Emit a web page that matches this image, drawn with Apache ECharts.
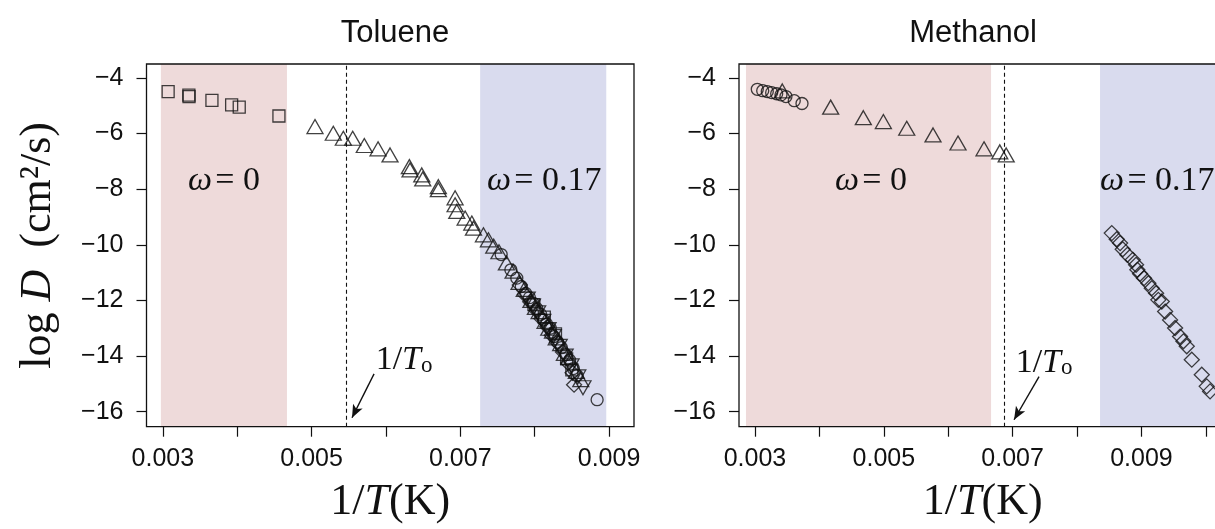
<!DOCTYPE html>
<html>
<head>
<meta charset="utf-8">
<script src="https://cdn.jsdelivr.net/npm/echarts@6/dist/echarts.min.js"></script>
<style>
  html, body { margin: 0; padding: 0; background: #fff; }
  #chart { width: 1215px; height: 529px; }
</style>
</head>
<body>
<div id="chart"></div>
<script>
// ---- Axis ticks / ranges ----
const xTicks = [0.003, 0.004, 0.005, 0.006, 0.007, 0.008, 0.009, 0.010];
const xLabels = [0.003, 0.005, 0.007, 0.009];
const yTicks = [-16, -14, -12, -10, -8, -6, -4];
const yRange = [-16.54, -3.5];

// ---- Panel titles ----
const panelTitles = ['Toluene', 'Methanol'];

// ---- Shaded regimes [from, to] in 1/T ----
const tolueneBands = { low: [0.002973, 0.004669], high: [0.007267, 0.008963] };
const methanolBands = { low: [0.002860, 0.006665], high: [0.008357, 0.0105] };

// ---- 1/T_o positions ----
const tolueneT0 = 0.005463;
const methanolT0 = 0.006866;

// ---- Toluene data: [1/T, log D] ----
const tolueneSquares = [
  [0.003071, -4.49], [0.00335, -4.62], [0.003352, -4.67], [0.00366, -4.81],
  [0.003925, -4.97], [0.004027, -5.05], [0.004561, -5.37],
  [0.00799, -12.15], [0.00813, -12.6], [0.00828, -13.2], [0.00843, -14.1], [0.00850, -14.5]
];
const tolueneTriangles = [
  [0.005046, -5.75], [0.005292, -5.99], [0.005427, -6.17], [0.005553, -6.17],
  [0.005709, -6.43], [0.005894, -6.55], [0.006055, -6.77], [0.006315, -7.19],
  [0.006324, -7.31], [0.006482, -7.49], [0.006495, -7.63], [0.006705, -7.91],
  [0.006705, -8.02], [0.00693, -8.31], [0.00693, -8.56], [0.006953, -8.80],
  [0.007065, -9.04], [0.007155, -9.22], [0.007177, -9.40], [0.007311, -9.64],
  [0.007378, -9.82], [0.00745, -10.05], [0.00752, -10.25], [0.00762, -10.65],
  [0.00771, -10.95], [0.00779, -11.35], [0.00786, -11.6], [0.00795, -12.0],
  [0.00801, -12.25], [0.00806, -12.4], [0.00814, -12.75], [0.00819, -13.0],
  [0.00824, -13.1], [0.00829, -13.35], [0.00835, -13.55], [0.00840, -13.9],
  [0.00846, -14.05], [0.00856, -14.55], [0.00862, -14.85]
];
const tolueneCircles = [
  [0.00755, -10.35], [0.00768, -10.9], [0.00776, -11.2], [0.00782, -11.5],
  [0.00788, -11.75], [0.00793, -11.9], [0.00798, -12.1], [0.00803, -12.3],
  [0.00808, -12.5], [0.00812, -12.7], [0.00816, -12.85], [0.00821, -13.0],
  [0.00826, -13.3], [0.00831, -13.5], [0.00836, -13.7], [0.00842, -13.95],
  [0.00847, -14.15], [0.00852, -14.45], [0.00857, -14.7], [0.00884, -15.57]
];
const tolueneInvTriangles = [
  [0.00790, -11.95], [0.00797, -12.2], [0.00804, -12.45], [0.00811, -12.75],
  [0.00818, -13.05], [0.00825, -13.3], [0.00833, -13.65], [0.00841, -14.0],
  [0.00849, -14.35], [0.00858, -14.75], [0.00865, -15.14]
];
const tolueneDiamonds = [
  [0.00780, -11.45], [0.00787, -11.8], [0.00794, -12.05], [0.00802, -12.35],
  [0.00809, -12.65], [0.00817, -12.95], [0.00823, -13.25], [0.00830, -13.5],
  [0.00838, -13.85], [0.00845, -14.25], [0.00851, -14.6], [0.00853, -15.03]
];

// ---- Methanol data: [1/T, log D] ----
const methanolCircles = [
  [0.003036, -4.41], [0.00312, -4.46], [0.003191, -4.49], [0.003259, -4.53],
  [0.003337, -4.57], [0.003404, -4.61], [0.003481, -4.67], [0.00361, -4.82],
  [0.00373, -4.92]
];
const methanolTriangles = [
  [0.003424, -4.47], [0.004175, -5.05], [0.004682, -5.43], [0.004993, -5.57],
  [0.005356, -5.81], [0.005764, -6.05], [0.006152, -6.34], [0.006556, -6.55],
  [0.00680, -6.66], [0.00690, -6.77]
];
const methanolDiamonds = [
  [0.008539, -9.58], [0.008616, -9.80], [0.008668, -9.94], [0.008709, -10.16],
  [0.008781, -10.36], [0.008865, -10.54], [0.008916, -10.72], [0.008936, -10.90],
  [0.008978, -11.04], [0.00904, -11.20], [0.009107, -11.38], [0.00916, -11.56],
  [0.009227, -11.74], [0.009262, -11.98], [0.009315, -12.04], [0.009367, -12.40],
  [0.009444, -12.70], [0.009522, -12.99], [0.009599, -13.30], [0.009651, -13.47],
  [0.009703, -13.65], [0.009781, -14.13], [0.009936, -14.67], [0.010013, -15.09],
  [0.010065, -15.27]
];

// ---- Annotation anchors (data space) ----
const tolueneArrow = [[0.005840, -14.64], [0.005544, -16.22]];
const methanolArrow = [[0.007410, -14.74], [0.007022, -16.29]];
const tolueneT0Label = [0.006244, -14.07];
const methanolT0Label = [0.007488, -14.17];
const omegaLabels = [
  { grid: 0, coord: [0.003821, -7.72], text: '0', align: 'center' },
  { grid: 0, coord: [0.008128, -7.72], text: '0.17', align: 'center' },
  { grid: 1, coord: [0.004801, -7.72], text: '0', align: 'center' },
  { grid: 1, coord: [0.008357, -7.72], text: '0.17', align: 'left' }
];

const INK = '#111';
const SANS = '"Liberation Sans", Arial, Helvetica, sans-serif';
const SERIF = '"Liberation Serif", "DejaVu Serif", serif';

const chart = echarts.init(document.getElementById('chart'), null, { renderer: 'canvas' });

const mathRich = {
  n: { fontFamily: SERIF, fontSize: 44, color: INK },
  i: { fontFamily: SERIF, fontSize: 44, fontStyle: 'italic', color: INK }
};

function xAxisFor(gi, min, max) {
  return {
    type: 'value', gridIndex: gi, min: min, max: max,
    axisLine: { show: false },
    splitLine: { show: false },
    axisTick: { show: true, inside: false, length: 10, customValues: xTicks,
      lineStyle: { color: INK, width: 1.2 } },
    axisLabel: { show: true, customValues: xLabels, margin: 20,
      fontFamily: SANS, fontSize: 25, color: INK,
      formatter: v => v.toFixed(3) },
    name: '{n|1/}{i|T}{n|(K)}',
    nameLocation: 'middle', nameGap: 54,
    nameTextStyle: { rich: mathRich, fontSize: 44 }
  };
}

function yAxisFor(gi, withName) {
  const ax = {
    type: 'value', gridIndex: gi, min: yRange[0], max: yRange[1],
    axisLine: { show: false },
    splitLine: { show: false },
    axisTick: { show: true, inside: false, length: 10, customValues: yTicks,
      lineStyle: { color: INK, width: 1.2 } },
    axisLabel: { show: true, customValues: yTicks, margin: 23,
      fontFamily: SANS, fontSize: 25, color: INK,
      formatter: v => (v < 0 ? '\u2212' : '') + Math.abs(v) }
  };
  if (withName) {
    ax.name = '{n|log }{i|D}{n|  (cm\u00B2/s)}';
    ax.nameLocation = 'middle';
    ax.nameGap = 86;
    ax.nameRotate = 90;
    ax.nameTextStyle = { rich: mathRich, fontSize: 44 };
  }
  return ax;
}

function hollow(name, data, gi, symbol, size, rotate) {
  return {
    type: 'scatter', name: name, data: data,
    xAxisIndex: gi, yAxisIndex: gi,
    symbol: symbol, symbolSize: size, symbolRotate: rotate || 0,
    itemStyle: { color: 'rgba(0,0,0,0)', borderColor: INK, borderWidth: 1.3 },
    emphasis: { disabled: true },
    silent: true, z: 5
  };
}

// Shaded regimes plus the omega / 1/T_o text for one panel
function regimes(gi, bands, t0Label) {
  const pts = omegaLabels.filter(o => o.grid === gi).map(o => ({
    coord: o.coord, value: o.text,
    label: {
      show: true, position: 'inside', align: o.align,
      formatter: '{w|\u03C9} {n|= ' + o.text + '}',
      rich: {
        w: { fontFamily: SERIF, fontSize: 34, fontStyle: 'italic', color: INK },
        n: { fontFamily: SERIF, fontSize: 34, color: INK }
      }
    }
  }));
  pts.push({
    coord: t0Label, value: 't0',
    label: {
      show: true, position: 'inside', align: 'center',
      formatter: '{n|1/}{i|T}{sub|o}',
      rich: {
        n: { fontFamily: SERIF, fontSize: 34, color: INK, verticalAlign: 'bottom', lineHeight: 38 },
        i: { fontFamily: SERIF, fontSize: 34, fontStyle: 'italic', color: INK, verticalAlign: 'bottom', lineHeight: 38 },
        sub: { fontFamily: SERIF, fontSize: 23, color: INK, verticalAlign: 'bottom', lineHeight: 16 }
      }
    }
  });
  return {
    type: 'scatter', data: [], xAxisIndex: gi, yAxisIndex: gi, silent: true, z: 1,
    markArea: {
      silent: true,
      data: [
        [{ xAxis: bands.low[0], itemStyle: { color: '#eedada' } }, { xAxis: bands.low[1] }],
        [{ xAxis: bands.high[0], itemStyle: { color: '#d9dbee' } }, { xAxis: bands.high[1] }]
      ]
    },
    markPoint: {
      silent: true, symbol: 'circle', symbolSize: 0,
      itemStyle: { color: 'rgba(0,0,0,0)' },
      data: pts
    }
  };
}

// Dashed 1/T_o guide spanning the full y range
function guide(gi, t0) {
  return {
    type: 'scatter', data: [], xAxisIndex: gi, yAxisIndex: gi, silent: true, z: 2,
    markLine: {
      silent: true, animation: false, symbol: ['none', 'none'],
      label: { show: false },
      lineStyle: { color: INK, width: 1.1, type: [4, 3] },
      data: [[{ coord: [t0, yRange[0]] }, { coord: [t0, yRange[1]] }]]
    }
  };
}

// Arrow pointing at 1/T_o
function pointer(gi, arrow) {
  return {
    type: 'scatter', data: [], xAxisIndex: gi, yAxisIndex: gi, silent: true, z: 4,
    markLine: {
      silent: true, animation: false, symbol: ['none', 'arrow'], symbolSize: [8, 13],
      label: { show: false },
      lineStyle: { color: INK, width: 1.4, type: 'solid' },
      data: [[{ coord: arrow[0] }, { coord: arrow[1] }]]
    }
  };
}

const titleStyle = { fontFamily: SANS, fontSize: 31, fontWeight: 'normal', color: INK };

const option = {
  backgroundColor: '#fff',
  animation: false,
  title: [
    { text: panelTitles[0], left: 390, top: 13, textAlign: 'center', textStyle: titleStyle },
    { text: panelTitles[1], left: 968, top: 13, textAlign: 'center', textStyle: titleStyle }
  ],
  grid: [
    { left: 146.5, top: 64, width: 487.5, height: 362.7, show: true, outerBoundsMode: 'none',
      containLabel: false,
      borderColor: INK, borderWidth: 1.3, backgroundColor: 'rgba(0,0,0,0)', z: 3 },
    { left: 739, top: 64, width: 487.5, height: 362.7, show: true, outerBoundsMode: 'none',
      containLabel: false,
      borderColor: INK, borderWidth: 1.3, backgroundColor: 'rgba(0,0,0,0)', z: 3 }
  ],
  xAxis: [xAxisFor(0, 0.00278, 0.009336), xAxisFor(1, 0.002752, 0.01032)],
  yAxis: [yAxisFor(0, true), yAxisFor(1, false)],
  series: [
    regimes(0, tolueneBands, tolueneT0Label),
    regimes(1, methanolBands, methanolT0Label),
    guide(0, tolueneT0),
    guide(1, methanolT0),
    pointer(0, tolueneArrow),
    pointer(1, methanolArrow),
    hollow('Toluene squares', tolueneSquares, 0, 'rect', 12),
    hollow('Toluene triangles', tolueneTriangles, 0, 'triangle', [16, 14]),
    hollow('Toluene circles', tolueneCircles, 0, 'circle', 12),
    hollow('Toluene inverted triangles', tolueneInvTriangles, 0, 'triangle', [16, 14], 180),
    hollow('Toluene diamonds', tolueneDiamonds, 0, 'diamond', 15),
    hollow('Methanol circles', methanolCircles, 1, 'circle', 12),
    hollow('Methanol triangles', methanolTriangles, 1, 'triangle', [16, 14]),
    hollow('Methanol diamonds', methanolDiamonds, 1, 'diamond', 15)
  ]
};

chart.setOption(option);
</script>
</body>
</html>
